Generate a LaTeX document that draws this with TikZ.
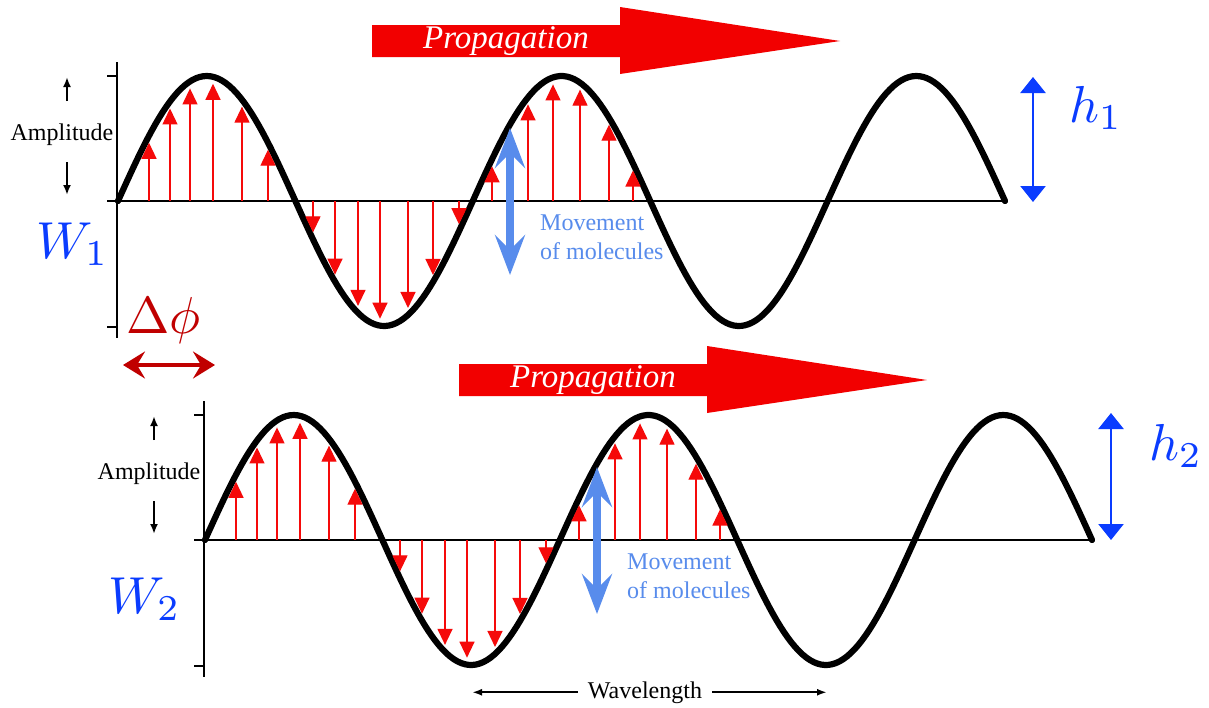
\documentclass[tikz,border=0pt]{standalone}
\usepackage{graphicx}
\usepackage[no-math]{fontspec}
\setmainfont{Liberation Serif}
\usetikzlibrary{arrows.meta}
\definecolor{wred}{RGB}{245,10,10}
\definecolor{propred}{RGB}{242,0,0}
\definecolor{molblue}{RGB}{88,140,236}
\definecolor{hblue}{RGB}{10,60,255}
\definecolor{dred}{RGB}{192,0,0}
\newcommand{\biglab}[1]{\scalebox{5.2}{$#1$}}
\begin{document}
\begin{tikzpicture}[x=1pt,y=-1pt,
  wave/.style={line width=6.2pt, line join=round, line cap=round},
  axisline/.style={line width=2.8pt},
  baseln/.style={line width=2pt},
  redarr/.style={wred, line width=1.3pt, -{Triangle[width=15pt,length=16pt]}},
  movarrow/.style={molblue, line width=8pt, {Stealth[width=30pt,length=40pt,inset=15pt]}-{Stealth[width=30pt,length=40pt,inset=15pt]}},
  movtext/.style={molblue, inner sep=0pt, align=left, font=\fontsize{24}{29}\selectfont},
  smalltext/.style={black, inner sep=0pt, font=\fontsize{24}{28}\selectfont},
  amparrow/.style={line width=2.2pt, -{Latex[length=10pt,width=8pt]}},
  proptext/.style={white, inner sep=0pt, font=\fontsize{33}{36}\selectfont\itshape},
  hlab/.style={hblue, inner sep=0pt},
  dlab/.style={dred, inner sep=0pt},
  harrow/.style={hblue, line width=2.5pt, {Triangle[width=25pt,length=16pt]}-{Triangle[width=25pt,length=16pt]}},
  dphiarrow/.style={dred, line width=4pt, {Stealth[width=27pt,length=22pt,inset=8pt]}-{Stealth[width=27pt,length=22pt,inset=8pt]}},
  wlarrow/.style={line width=2pt, -{Latex[length=10pt,width=7pt]}}]
\useasboundingbox (0,0) rectangle (1209,707);
\fill[white] (0,0) rectangle (1209,707);

\foreach \i/\ox/\oy in {1/0/0,2/87/339}{
 \begin{scope}[shift={(\ox,\oy)}]
  % propagation arrow
  \fill[propred] (372,25) -- (620,25) -- (620,7) -- (840,41) -- (620,74) -- (620,57) -- (372,57) -- cycle;
  \node[proptext] (prop\i) at (506,41) {Propagation};
  % axes
  \draw[axisline] (117,62) -- (117,338);
  \draw[axisline] (107,76) -- (117,76);
  \draw[axisline] (107,327) -- (117,327);
  \draw[baseln] (107,201) -- (1005,201);
  % wave
  \draw[wave] plot[domain=118:1005,samples=240] (\x,{201-125*sin((\x-118)/177.4*180)});
  % molecule displacement arrows
  \foreach \p in {149,170,190,213,242,268,313,335,358,380,408,433,459,492,528,553,580,609,633}{
    \pgfmathsetmacro\s{sin((\p-118)/177.4*180)}
    \pgfmathsetmacro\tip{201-125*\s+(\s>0?7:-7)}
    \draw[redarr] (\p,201) -- (\p,\tip);
  }
  % movement of molecules
  \coordinate (mt\i) at (510,128);
  \coordinate (mb\i) at (510,275);
  \draw[movarrow] (mt\i) -- (mb\i);
  \node[movtext, anchor=west] (mv\i) at (540,237) {Movement\\of molecules};
  % amplitude
  \node[smalltext, anchor=base] (amp\i) at (62,140) {Amplitude};
  \coordinate (aut\i) at (67,77);
  \coordinate (aub\i) at (67,101);
  \coordinate (adt\i) at (67,162);
  \coordinate (adb\i) at (67,195);
  \draw[amparrow] (aub\i) -- (aut\i);
  \draw[amparrow] (adt\i) -- (adb\i);
 \end{scope}
}

% wavelength
\node[smalltext, anchor=base, inner xsep=10pt] (wl) at (645,698) {Wavelength};
\coordinate (wlL) at (472,692);
\coordinate (wlR) at (827,692);
\draw[wlarrow] (wl.west) -- (wl.west -| wlL);
\draw[wlarrow] (wl.east) -- (wl.east -| wlR);

% labels
\node[hlab, anchor=base west] (w1) at (36,258) {\biglab{W_1}};
\node[hlab, anchor=base west] (w2) at (108,613) {\biglab{W_2}};
\node[hlab, anchor=base west] (h1) at (1069,122) {\biglab{h_1}};
\node[hlab, anchor=base west] (h2) at (1149,460) {\biglab{h_2}};
\coordinate (h1t) at (1033,77);
\coordinate (h1b) at (1033,202);
\coordinate (h2t) at (1111,413);
\coordinate (h2b) at (1111,540);
\draw[harrow] (h1t) -- (h1b);
\draw[harrow] (h2t) -- (h2b);

\node[dlab, anchor=base west] (dphi) at (126,333) {\biglab{\Delta\phi}};
\coordinate (dpl) at (123,365);
\coordinate (dpr) at (215,365);
\draw[dphiarrow] (dpl) -- (dpr);
\end{tikzpicture}
\end{document}
